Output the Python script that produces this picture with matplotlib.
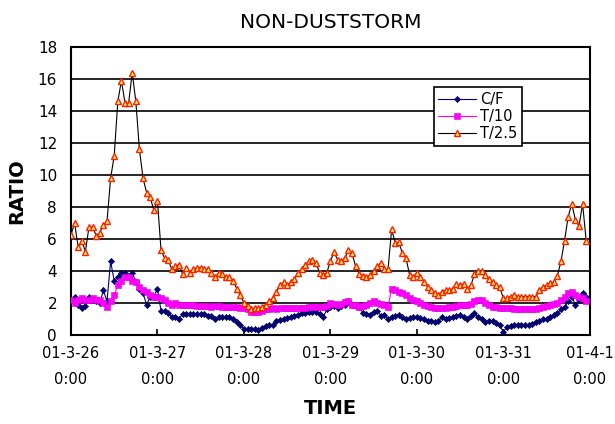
import matplotlib
matplotlib.use("Agg")
import matplotlib.pyplot as plt
import numpy as np

# hourly samples starting 01-3-26 0:00
cf = [2.2, 2.4, 1.9, 1.7, 1.8, 2.4, 2.2, 2.1, 2.0, 2.8, 2.1, 4.6, 3.4, 3.6, 3.9, 3.9, 3.6, 3.9, 3.3, 2.9,
      2.6, 1.9, 2.4, 2.4, 2.9, 1.5, 1.5, 1.4, 1.1, 1.1, 1.0, 1.3, 1.3, 1.3, 1.3, 1.3, 1.3, 1.3, 1.2, 1.2,
      1.0, 1.1, 1.1, 1.1, 1.1, 1.0, 0.8, 0.6, 0.4, 0.4, 0.4, 0.35, 0.3, 0.45, 0.55, 0.6, 0.6, 0.85, 0.95, 1.0,
      1.05, 1.1, 1.2, 1.25, 1.35, 1.4, 1.45, 1.45, 1.45, 1.3, 1.1, 1.6, 1.75, 1.8, 1.7, 1.8, 1.9, 2.1, 1.9, 1.8,
      1.75, 1.4, 1.3, 1.25, 1.45, 1.5, 1.2, 1.25, 1.0, 1.1, 1.2, 1.25, 1.1, 1.0, 1.05, 1.1, 1.1, 1.05, 1.0, 0.9,
      0.85, 0.8, 0.9, 1.1, 1.0, 1.05, 1.1, 1.2, 1.25, 1.1, 1.0, 1.2, 1.4, 1.1, 1.0, 0.8, 0.85, 0.9, 0.75, 0.6,
      0.2, 0.5, 0.55, 0.6, 0.6, 0.6, 0.6, 0.6, 0.7, 0.8, 0.9, 1.0, 1.0, 1.1, 1.25, 1.35, 1.6, 1.75, 2.1, 2.4,
      1.9, 2.2, 2.6, 2.4]

t10 = [2.2, 2.0, 2.2, 2.3, 2.2, 2.2, 2.3, 2.2, 2.2, 2.0, 1.75, 2.1, 2.5, 3.1, 3.4, 3.6, 3.6, 3.4, 3.3, 3.0,
       2.8, 2.7, 2.5, 2.4, 2.4, 2.3, 2.2, 2.0, 1.9, 2.0, 1.9, 1.9, 1.9, 1.9, 1.9, 1.8, 1.8, 1.8, 1.8, 1.75,
       1.8, 1.8, 1.75, 1.75, 1.75, 1.75, 1.75, 1.7, 1.7, 1.6, 1.45, 1.45, 1.45, 1.5, 1.6, 1.6, 1.7, 1.65, 1.7, 1.7,
       1.7, 1.7, 1.7, 1.7, 1.7, 1.7, 1.75, 1.75, 1.75, 1.75, 1.75, 1.8, 2.0, 1.95, 1.9, 1.95, 2.05, 2.1, 1.9, 1.85,
       1.75, 1.8, 1.9, 2.0, 2.1, 2.0, 1.95, 1.9, 1.75, 2.9, 2.8, 2.7, 2.6, 2.5, 2.3, 2.2, 2.1, 2.0, 1.9, 1.8,
       1.75, 1.7, 1.7, 1.7, 1.7, 1.75, 1.75, 1.8, 1.85, 1.9, 1.9, 1.95, 2.1, 2.2, 2.2, 2.0, 1.85, 1.75, 1.75, 1.7,
       1.7, 1.7, 1.7, 1.65, 1.6, 1.6, 1.6, 1.6, 1.6, 1.65, 1.7, 1.75, 1.8, 1.9, 1.95, 2.0, 2.2, 2.4, 2.6, 2.7,
       2.5, 2.4, 2.3, 2.1]

t25 = [6.25, 7.0, 5.5, 5.9, 5.2, 6.75, 6.75, 6.2, 6.4, 6.9, 7.1, 9.8, 11.2, 14.6, 15.9, 14.5, 14.5, 16.4, 14.6, 11.6,
       9.8, 8.9, 8.6, 7.8, 8.4, 5.3, 4.8, 4.7, 4.1, 4.3, 4.4, 3.8, 4.2, 3.9, 4.1, 4.2, 4.2, 4.1, 4.1, 3.9,
       3.6, 3.9, 3.8, 3.6, 3.6, 3.4, 2.9, 2.5, 2.0, 1.8, 1.6, 1.7, 1.7, 1.75, 1.9, 2.1, 2.3, 2.7, 3.1, 3.3,
       3.1, 3.3, 3.5, 3.9, 4.1, 4.4, 4.6, 4.7, 4.5, 3.9, 3.75, 3.9, 4.6, 5.2, 4.7, 4.6, 4.8, 5.3, 5.1, 4.3,
       3.8, 3.7, 3.6, 3.75, 4.0, 4.3, 4.5, 4.1, 4.1, 6.6, 5.75, 5.8, 5.1, 4.8, 3.75, 3.6, 3.9, 3.6, 3.3, 3.0,
       2.8, 2.6, 2.5, 2.7, 2.8, 2.8, 2.9, 3.2, 3.1, 3.2, 2.9, 3.1, 3.8, 4.0, 4.0, 3.75, 3.5, 3.3, 3.1, 3.0,
       2.3, 2.3, 2.4, 2.5, 2.4, 2.4, 2.4, 2.4, 2.4, 2.4, 2.8, 3.0, 3.1, 3.25, 3.3, 3.7, 4.6, 5.9, 7.4, 8.2,
       7.2, 6.8, 8.2, 5.9]

day_labels = ["01-3-26\n0:00", "01-3-27\n0:00", "01-3-28\n0:00", "01-3-29\n0:00",
              "01-3-30\n0:00", "01-3-31\n0:00", "01-4-1\n0:00"]
y_ticks = [0, 2, 4, 6, 8, 10, 12, 14, 16, 18]

hours = np.arange(len(t25)) / 24.0

fig = plt.figure(figsize=(6.15, 4.24), dpi=100)
ax = fig.add_axes([0.1154, 0.2099, 0.8436, 0.6791])

ax.plot(hours[:len(cf)], cf, color="#000080", lw=0.8, marker="D", ms=3.2,
        mfc="#000080", mec="#000040", mew=0.4, label="C/F", zorder=3)
ax.plot(hours[:len(t10)], t10, color="#FF00FF", lw=0.8, marker="s", ms=3.8,
        mfc="#FF00FF", mec="#E000E0", mew=0.4, label="T/10", zorder=4)
ax.plot(hours, t25, color="black", lw=0.8, marker="^", ms=4.8,
        mfc="#FFEE66", mec="#FF2000", mew=1.0, label="T/2.5", zorder=5)

ax.set_xlim(0, 6)
ax.set_ylim(0, 18)
ax.set_yticks(y_ticks)
ax.set_xticks(range(7))
ax.set_xticklabels(day_labels, fontsize=10.5, linespacing=1.9)
ax.tick_params(axis="y", length=0, labelsize=11, pad=10)
ax.tick_params(axis="x", direction="in", length=4, width=1.2, pad=8)
ax.yaxis.grid(True, color="black", lw=1.2)
ax.set_axisbelow(True)
for s in ax.spines.values():
    s.set_linewidth(1.5)

ax.set_title("NON-DUSTSTORM", fontsize=14.5, pad=14)
ax.set_ylabel("RATIO", fontsize=14, fontweight="bold", labelpad=8)
ax.set_xlabel("TIME", fontsize=14, fontweight="bold", labelpad=9)

leg = ax.legend(loc="upper left", bbox_to_anchor=(0.685, 0.885), fontsize=10.5,
                frameon=True, fancybox=False, edgecolor="black", framealpha=1,
                handlelength=2.6, borderpad=0.3, labelspacing=0.15, handletextpad=0.3)
leg.get_frame().set_linewidth(1.2)

fig.savefig("out.png", dpi=100)
